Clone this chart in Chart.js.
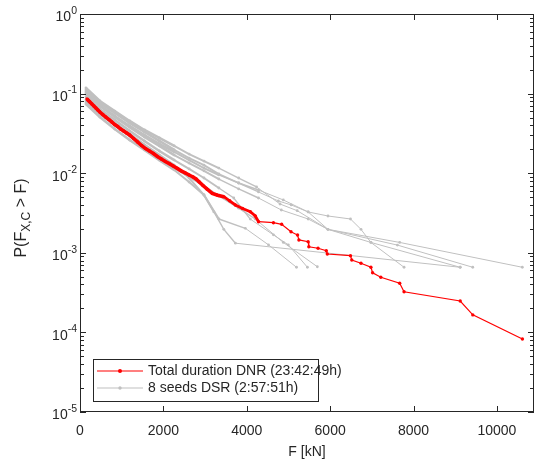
<!DOCTYPE html>
<html><head><meta charset="utf-8">
<script src="https://cdn.jsdelivr.net/npm/chart.js@4.4.1/dist/chart.umd.min.js"></script>
<style>html,body{margin:0;padding:0;background:#fff;}#wrap{width:538px;height:468px;}</style>
</head><body><div id="wrap"><canvas id="c" width="538" height="468"></canvas></div>
<script>
// ---------- data ----------
const redF = [167,190,214,238,285,333,381,428,476,547,619,690,761,833,904,975,1047,1118,1190,1285,1380,1475,1570,1666,1761,1856,1951,2046,2141,2236,2332,2427,2522,2617,2712,2784,2855,2950,3050,3172,3300,3450,3590,3728,3900,4085,4204,4283,4640,4837,5061,5218,5251,5472,5489,5710,5908,5932,6488,6519,6740,6978,7019,7216,7668,7773,9120,9422,10612];
const redP = [0.0855,0.0831,0.0807,0.0784,0.0740,0.0699,0.0659,0.0622,0.0587,0.0546,0.0508,0.0473,0.0440,0.0409,0.0386,0.0359,0.0339,0.0320,0.0302,0.0273,0.0247,0.0223,0.0204,0.0190,0.0177,0.0162,0.0151,0.0140,0.0132,0.0123,0.0115,0.0107,0.0101,0.00949,0.00896,0.00845,0.00782,0.00700,0.00630,0.00558,0.00530,0.00507,0.00450,0.00399,0.00360,0.00328,0.00290,0.00246,0.00239,0.00228,0.00184,0.00167,0.00145,0.00138,0.00119,0.00114,0.00106,0.000966,0.000920,0.000813,0.000738,0.000658,0.000562,0.000492,0.000414,0.000324,0.000248,0.000166,0.0000826];

const seedF = [
  [143,476,833,1190,1546,1903,2260,2617,2974,3331,3806,4282,4758,5067,5472,5948,6488,6740,6978,7773],
  [143,476,833,1190,1546,1903,2260,2617,2974,3331,3806,4235,4798,5210,5948,7668,10610],
  [143,476,833,1190,1546,1903,2260,2617,2974,3331,3806,4282,4877,5472,5948,7613,9421],
  [143,476,833,1190,1546,1903,2260,2617,2974,3212,3450,3728,9119],
  [143,476,833,1190,1546,1903,2260,2617,2974,3331,3806,4204,4877,5693],
  [143,476,833,1190,1546,1903,2260,2617,2974,3331,3688,4085,4639,4996,5455],
  [143,476,833,1190,1546,1903,2260,2617,2974,3331,3966,4520,5193],
  [143,476,833,1190,1546,1903,2260,2617,2974,3331,3806,4282,4829,5472,5948,6978,9119]
];
const seedP = [
  [0.1110,0.0762,0.0570,0.0427,0.0330,0.0254,0.0196,0.0155,0.0126,0.00977,0.00753,0.00581,0.00448,0.00399,0.00326,0.00290,0.00266,0.00197,0.00135,0.000658],
  [0.1176,0.0807,0.0604,0.0453,0.0349,0.0277,0.0220,0.0174,0.0142,0.0116,0.00870,0.00671,0.00410,0.00338,0.00197,0.00135,0.000658],
  [0.1047,0.0720,0.0523,0.0392,0.0302,0.0233,0.0185,0.0146,0.0116,0.00950,0.00753,0.00615,0.00461,0.00326,0.00197,0.00125,0.000658],
  [0.0831,0.0587,0.0427,0.0311,0.0227,0.0169,0.0126,0.00870,0.00532,0.00326,0.00197,0.00132,0.000658],
  [0.0784,0.0554,0.0403,0.0293,0.0214,0.0155,0.0116,0.00896,0.00691,0.00517,0.00364,0.00266,0.00135,0.000668],
  [0.0906,0.0640,0.0466,0.0340,0.0254,0.0190,0.0146,0.0113,0.00870,0.00652,0.00488,0.00265,0.00168,0.00126,0.000658],
  [0.0740,0.0508,0.0359,0.0261,0.0196,0.0146,0.0110,0.00775,0.00532,0.00266,0.00203,0.00126,0.000658],
  [0.0989,0.0699,0.0508,0.0380,0.0285,0.0220,0.0169,0.0134,0.0107,0.00845,0.00634,0.00488,0.00345,0.00266,0.00197,0.00135,0.000658]
];

const xTickValues = [0,2000,4000,6000,8000,10000];
const yTickValues = [1,0.1,0.01,0.001,0.0001,0.00001];
const yTickExp = ['0','-1','-2','-3','-4','-5'];
const legendLabels = ['Total duration DNR (23:42:49h)','8 seeds DSR (2:57:51h)'];
const xTitle = 'F [kN]';
const yTitleParts = ['P(F','X,C',' > F)'];

// ---------- styles ----------
const FONT = '"Liberation Sans", Arial, Helvetica, sans-serif';
const TXT = 'rgb(38,38,38)';
const RED = 'rgb(255,0,0)';
const GRAY = 'rgb(192,192,192)';

const toPts = (F,P) => F.map((f,i)=>({x:f,y:P[i]}));
const datasets = [{
  label: legendLabels[0], data: toPts(redF, redP), borderColor: RED, backgroundColor: RED,
  borderWidth: 1.2, pointRadius: 1.7, pointBorderWidth: 0, pointBackgroundColor: RED, showLine: true,
  segment: { borderWidth: c => c.p1.parsed.x <= 3500 ? 3.6 : (c.p1.parsed.x <= 4290 ? 2.8 : 1.2) }
}];
seedF.forEach((F,k)=>datasets.push({
  label: k===0 ? legendLabels[1] : '', data: toPts(F, seedP[k]), borderColor: GRAY, backgroundColor: GRAY,
  borderWidth: 1, pointRadius: 1.4, pointBorderWidth: 0, pointBackgroundColor: GRAY, showLine: true,
  segment: { borderWidth: c => c.p1.parsed.x <= 2300 ? 2.6 : (c.p1.parsed.x <= 3400 ? 2.0 : (c.p1.parsed.x <= 4300 ? 1.4 : 1)) }
}));

const decor = {
  id: 'decor',
  afterDraw(chart){
    const {ctx, chartArea:a, scales:{x, y}} = chart;
    ctx.save();
    ctx.strokeStyle = TXT; ctx.lineWidth = 1;
    const ln = (x1,y1,x2,y2)=>{ctx.beginPath();ctx.moveTo(x1,y1);ctx.lineTo(x2,y2);ctx.stroke();};
    ctx.strokeRect(a.left+0.5, a.top+0.5, a.right-a.left-1, a.bottom-a.top-1);
    xTickValues.forEach(v=>{
      const px = Math.round(x.getPixelForValue(v))+0.5;
      ln(px, a.bottom, px, a.bottom-6); ln(px, a.top, px, a.top+6);
    });
    yTickValues.forEach((v,i)=>{
      for (let m=1; m<=9; m++){
        const val = v*m; if (val>1.0000001) break;
        const py = Math.round(y.getPixelForValue(val))+0.5;
        if (py < a.top || py > a.bottom+1) continue;
        const len = m===1 ? 6 : 4;
        ln(a.left, py, a.left+len, py); ln(a.right, py, a.right-len, py);
      }
    });
    ctx.fillStyle = TXT; ctx.textAlign = 'right';
    yTickValues.forEach((v,i)=>{
      const py = y.getPixelForValue(v);
      ctx.font = '10.5px ' + FONT; ctx.textBaseline = 'middle';
      const sw = ctx.measureText(yTickExp[i]).width;
      ctx.fillText(yTickExp[i], 77, py-3);
      ctx.font = '14px ' + FONT;
      ctx.fillText('10', 77 - sw, py+3.5);
    });
    // y title
    ctx.save();
    ctx.translate(22, 218); ctx.rotate(-Math.PI/2);
    ctx.textAlign = 'left'; ctx.textBaseline = 'middle';
    ctx.font = '16px ' + FONT; const w1 = ctx.measureText(yTitleParts[0]).width; const w3 = ctx.measureText(yTitleParts[2]).width;
    ctx.font = '12px ' + FONT; const w2 = ctx.measureText(yTitleParts[1]).width;
    let sx = -(w1+w2+w3)/2;
    ctx.font = '16px ' + FONT; ctx.fillText(yTitleParts[0], sx, 0); sx += w1;
    ctx.font = '12px ' + FONT; ctx.fillText(yTitleParts[1], sx, 5); sx += w2;
    ctx.font = '16px ' + FONT; ctx.fillText(yTitleParts[2], sx, 0);
    ctx.restore();
    // legend
    const lx = 93, ly = 359, lw = 225, lh = 42;
    ctx.fillStyle = '#fff'; ctx.fillRect(lx, ly, lw, lh);
    ctx.strokeStyle = TXT; ctx.lineWidth = 1; ctx.strokeRect(lx+0.5, ly+0.5, lw, lh);
    const rows = [{c:RED, y:371, r:1.7, w:1.2},{c:GRAY, y:388, r:1.4, w:1.2}];
    rows.forEach((r,i)=>{
      ctx.strokeStyle = r.c; ctx.lineWidth = r.w; ln(97, r.y, 143, r.y);
      ctx.fillStyle = r.c; ctx.beginPath(); ctx.arc(120, r.y, r.r+0.3, 0, Math.PI*2); ctx.fill();
      ctx.fillStyle = TXT; ctx.font = '14px ' + FONT; ctx.textAlign = 'left'; ctx.textBaseline = 'middle';
      ctx.fillText(legendLabels[i], 148, r.y+0.5);
    });
    ctx.restore();
  }
};

new Chart(document.getElementById('c'), {
  type: 'scatter',
  data: { datasets },
  options: {
    responsive: false, animation: false, devicePixelRatio: 1,
    layout: { padding: { left: 0, top: 14, right: 1, bottom: 0 } },
    plugins: { legend: { display: false }, tooltip: { enabled: false } },
    scales: {
      x: {
        type: 'linear', min: 0, max: 10890,
        grid: { display: false, drawTicks: false }, border: { display: false },
        ticks: { stepSize: 2000, color: TXT, font: { family: FONT, size: 14 }, padding: 11, maxRotation: 0,
                 callback: v => String(v) },
        title: { display: true, text: xTitle, color: TXT, font: { family: FONT, size: 14 }, padding: { top: 0, bottom: 7 } },
        afterBuildTicks(s){ s.ticks = xTickValues.map(v=>({value:v})); },
        afterFit(s){ s.height = 56; }
      },
      y: {
        type: 'logarithmic', min: 1e-5, max: 1,
        grid: { display: false, drawTicks: false }, border: { display: false },
        ticks: { display: false },
        afterFit(s){ s.width = 80; }
      }
    }
  },
  plugins: [decor]
});
</script>
</body></html>
